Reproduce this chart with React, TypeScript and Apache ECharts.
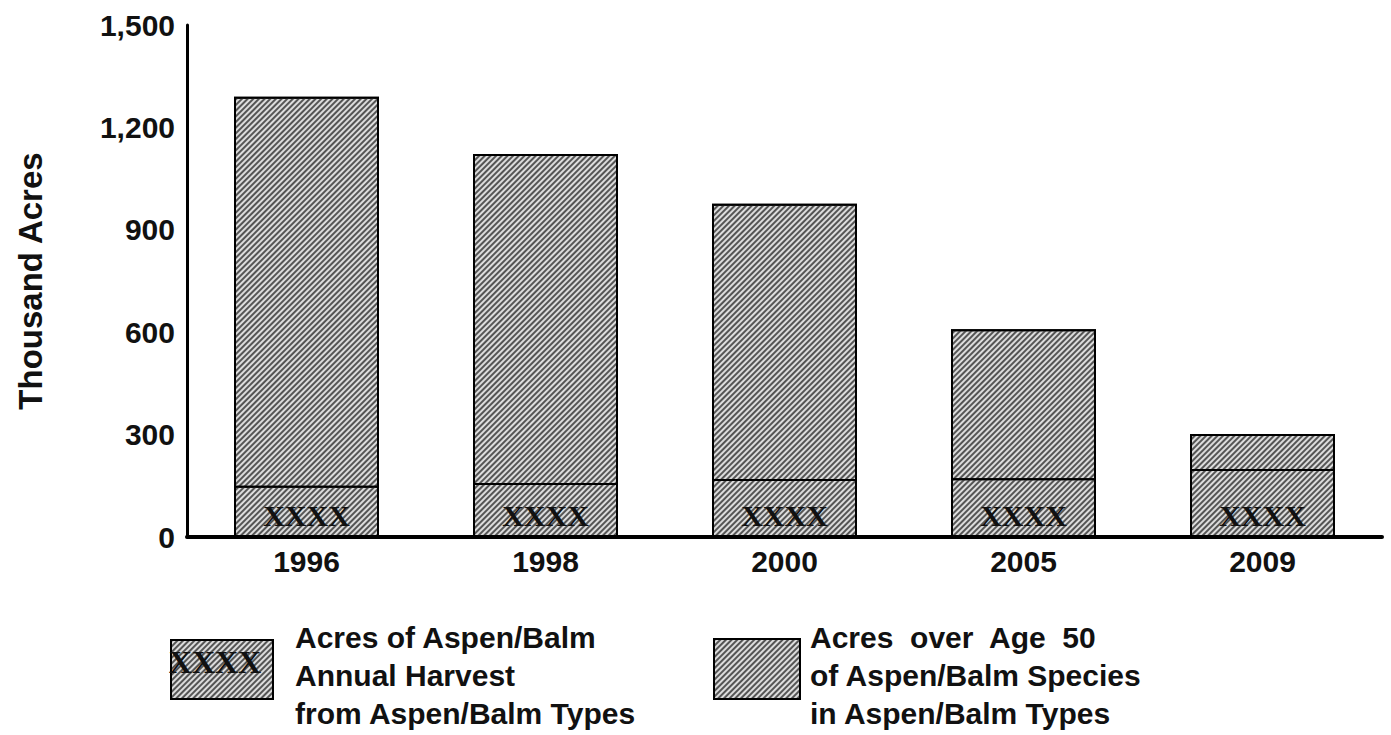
import React, { useEffect, useRef } from 'react';
import * as echarts from 'echarts';

const categories = ['1996', '1998', '2000', '2005', '2009'];
const over50Values = [1290, 1122, 976, 609, 302];
const harvestValues = [150, 158, 170, 172, 199];
const yMin = 0;
const yMax = 1500;
const yInterval = 300;

const harvestName = 'Acres of Aspen/Balm\nAnnual Harvest\nfrom Aspen/Balm Types';
const over50Name = 'Acres  over  Age  50\nof Aspen/Balm Species\nin Aspen/Balm Types';

const SANS = '"Liberation Sans", Arial, sans-serif';
const SERIF = '"Liberation Serif", "Times New Roman", serif';

const hatch = {
  symbol: 'rect',
  symbolSize: 1,
  dashArrayX: [1, 0],
  dashArrayY: [1.5, 1.7],
  rotation: -Math.PI / 4,
  color: '#555555',
};

export default function App() {
  const ref = useRef<HTMLDivElement>(null);
  useEffect(() => {
    if (!ref.current) return;
    const chart = echarts.init(ref.current, null, { renderer: 'svg' });
    const barStyle = {
      color: '#dcdcdc',
      borderColor: '#000',
      borderWidth: 2,
      decal: hatch,
    };
    chart.setOption({
      animation: false,
      aria: { enabled: true, decal: { show: true } },
      grid: { left: 187, right: 9, top: 25, bottom: 198, containLabel: false },
      xAxis: {
        type: 'category',
        data: categories,
        axisLine: { show: true, lineStyle: { color: '#000', width: 4 } },
        axisTick: { show: false },
        axisLabel: {
          color: '#111',
          fontSize: 30,
          fontWeight: 'bold',
          fontFamily: SANS,
          margin: 9,
        },
      },
      yAxis: {
        type: 'value',
        min: yMin,
        max: yMax,
        interval: yInterval,
        splitLine: { show: false },
        axisLine: { show: true, lineStyle: { color: '#000', width: 3 } },
        axisTick: { show: false },
        axisLabel: {
          color: '#111',
          fontSize: 30,
          fontWeight: 'bold',
          fontFamily: SANS,
          margin: 12,
          formatter: (v: number) => v.toLocaleString('en-US'),
        },
      },
      legend: [
        {
          data: [{ name: harvestName }],
          left: 165,
          top: 634,
          itemWidth: 102,
          itemHeight: 59,
          icon: 'rect',
          selectedMode: false,
          formatter: () => '',
          itemStyle: { borderColor: '#000', borderWidth: 2 },
          textStyle: { fontSize: 1 },
        },
        {
          data: [{ name: over50Name }],
          left: 708,
          top: 633,
          itemWidth: 86,
          itemHeight: 60,
          icon: 'rect',
          selectedMode: false,
          formatter: () => '',
          itemStyle: { borderColor: '#000', borderWidth: 2 },
          textStyle: { fontSize: 1 },
        },
      ],
      graphic: [
        {
          type: 'text',
          x: 30,
          y: 281,
          rotation: Math.PI / 2,
          style: {
            text: 'Thousand Acres',
            align: 'center',
            verticalAlign: 'middle',
            fontSize: 33,
            fontWeight: 'bold',
            fontFamily: SANS,
            fill: '#111',
          },
        },
        {
          type: 'text',
          x: 295,
          y: 618,
          style: {
            text: harvestName,
            align: 'left',
            verticalAlign: 'top',
            fontSize: 30,
            lineHeight: 38,
            fontWeight: 'bold',
            fontFamily: SANS,
            fill: '#111',
          },
        },
        {
          type: 'text',
          x: 810,
          y: 618,
          style: {
            text: over50Name,
            align: 'left',
            verticalAlign: 'top',
            fontSize: 30,
            lineHeight: 38,
            fontWeight: 'bold',
            fontFamily: SANS,
            fill: '#111',
          },
        },
        {
          type: 'text',
          x: 215,
          y: 662,
          z: 100,
          style: {
            text: 'XXXX',
            align: 'center',
            verticalAlign: 'middle',
            fontSize: 32,
            fontWeight: 'bold',
            fontFamily: SERIF,
            fill: '#111',
          },
        },
      ],
      series: [
        {
          name: over50Name,
          type: 'bar',
          data: over50Values,
          barWidth: 145,
          barGap: '-100%',
          itemStyle: barStyle,
          z: 2,
        },
        {
          name: harvestName,
          type: 'bar',
          data: harvestValues,
          barWidth: 145,
          barGap: '-100%',
          itemStyle: barStyle,
          z: 3,
          label: {
            show: true,
            position: 'insideBottom',
            distance: 7,
            formatter: () => 'XXXX',
            color: '#111',
            fontSize: 30,
            fontWeight: 'bold',
            fontFamily: SERIF,
          },
        },
      ],
    });
    return () => chart.dispose();
  }, []);
  return (
    <div
      ref={ref}
      style={{ position: 'fixed', left: 0, top: 0, width: 1391, height: 735, background: '#fff' }}
    />
  );
}
